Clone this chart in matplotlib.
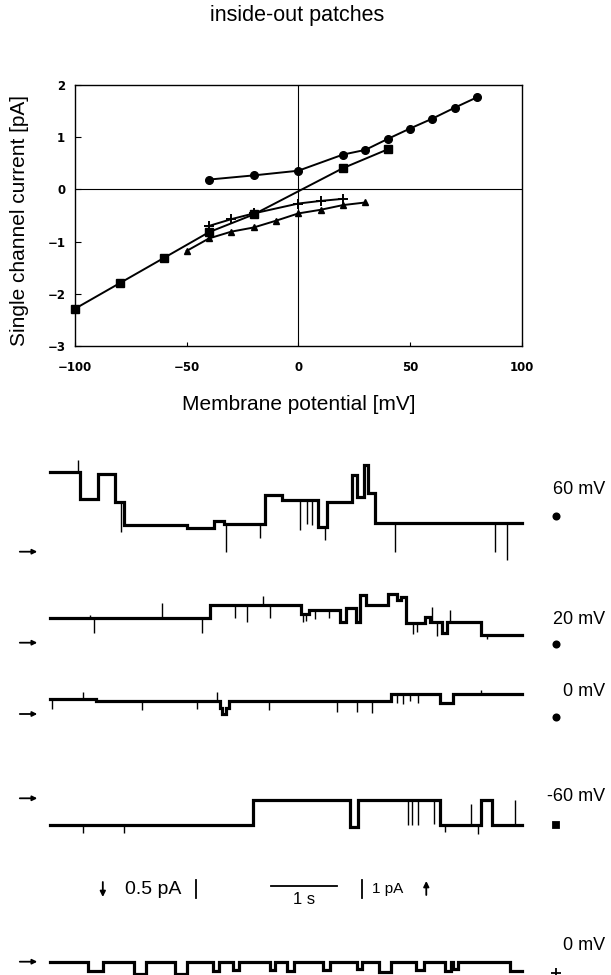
import numpy as np
import matplotlib
matplotlib.use("Agg")
import matplotlib.pyplot as plt
from matplotlib.lines import Line2D

# ---------------- data: I-V relation ----------------
V_CIRCLE = [-40, -20, 0, 20, 30, 40, 50, 60, 70, 80]
I_CIRCLE = [0.19, 0.27, 0.36, 0.67, 0.76, 0.97, 1.17, 1.36, 1.57, 1.77]
V_SQUARE = [-100, -80, -60, -40, -20, 20, 40]
I_SQUARE = [-2.29, -1.80, -1.31, -0.82, -0.48, 0.41, 0.77]
V_TRI = [-50, -40, -30, -20, -10, 0, 10, 20, 30]
I_TRI = [-1.18, -0.94, -0.81, -0.73, -0.60, -0.46, -0.39, -0.30, -0.25]
V_PLUS = [-40, -30, -20, 0, 10, 20]
I_PLUS = [-0.70, -0.57, -0.46, -0.27, -0.22, -0.18]
X_TICKS = [-100, -50, 0, 50, 100]
Y_TICKS = [-3, -2, -1, 0, 1, 2]

# ---------------- data: single channel traces (time s, current pA) ----------------
T_END = 7.15
T1_T = [0.00, 0.45, 0.72, 0.99, 1.12, 2.07, 2.48, 2.64, 3.26, 3.52, 4.06, 4.19, 4.57, 4.65, 4.75, 4.81, 4.93]
T1_I = [4.44, 2.91, 4.32, 2.78, 1.48, 1.30, 1.70, 1.55, 3.15, 2.90, 1.39, 2.75, 4.26, 3.02, 4.82, 3.28, 1.61]
T1_SPK_T = [0.42, 1.07, 2.67, 3.18, 3.78, 3.89, 3.97, 4.16, 5.22, 6.74, 6.93]
T1_SPK_I = [5.10, 1.11, 0.00, 0.74, 1.20, 1.52, 1.50, 0.65, 0.00, 0.00, -0.46]

T2_T = [0.00, 2.43, 3.80, 3.93, 4.40, 4.49, 4.63, 4.70, 4.78, 5.12, 5.25, 5.31, 5.40, 5.68, 5.75, 5.94, 6.02, 6.53]
T2_I = [1.35, 2.09, 1.60, 1.79, 1.17, 1.91, 1.17, 2.65, 2.09, 2.70, 2.36, 2.55, 1.08, 1.45, 1.17, 0.55, 1.17, 0.43]
T2_SPK_T = [0.60, 0.67, 1.70, 2.31, 2.80, 2.98, 3.22, 3.34, 3.83, 3.88, 4.02, 4.22, 5.50, 5.56, 5.78, 5.86, 6.06, 6.62]
T2_SPK_I = [1.55, 0.53, 2.19, 0.52, 1.35, 1.17, 2.60, 1.35, 1.17, 1.20, 1.30, 1.40, 0.50, 0.60, 2.00, 0.40, 1.80, 0.20]

T3_T = [0.00, 0.70, 2.57, 2.61, 2.66, 2.71, 5.17, 5.91, 6.10]
T3_I = [0.84, 0.74, 0.35, 0.00, 0.35, 0.74, 1.11, 0.61, 1.11]
T3_SPK_T = [0.03, 0.50, 1.40, 2.22, 2.53, 3.31, 4.34, 4.65, 4.88, 5.25, 5.35, 5.45, 5.58, 6.53]
T3_SPK_I = [0.30, 1.24, 0.22, 0.30, 1.24, 0.22, 0.13, 0.13, 0.04, 0.60, 0.55, 0.70, 0.60, 1.35]

T4_T = [0.00, 3.08, 4.55, 4.66, 5.91, 6.53, 6.69]
T4_I = [-1.48, -0.09, -1.60, -0.09, -1.48, -0.09, -1.48]
T4_SPK_T = [0.50, 1.12, 5.42, 5.49, 5.58, 5.81, 5.99, 6.38, 6.48, 7.05]
T4_SPK_I = [-1.90, -1.90, -1.50, -1.50, -1.50, -1.45, -1.85, -0.30, -2.00, -0.10]

T5_T = [0.00, 0.57, 0.81, 1.27, 1.45, 1.90, 2.07, 2.47, 2.56, 2.77, 2.87, 3.34, 3.41,
        3.59, 3.70, 4.13, 4.24, 4.65, 4.73, 4.98, 5.17, 5.55, 5.66, 5.99, 6.07, 6.10, 6.18, 6.97]
T5_I = [0.00, -0.25, 0.00, -0.35, 0.00, -0.33, 0.00, -0.25, 0.00, -0.22, 0.00, -0.22, 0.00,
        -0.25, 0.00, -0.22, 0.00, -0.20, 0.00, -0.28, 0.00, -0.22, 0.00, -0.25, 0.00, -0.20, 0.00, -0.25]

TRACE_LABELS = ["60 mV", "20 mV", "0 mV", "-60 mV", "0 mV"]
TRACE_MARKERS = ["o", "o", "o", "s", "+"]

# ---------------- figure ----------------
W, H, DPI = 611, 975, 100
plt.rcParams["font.family"] = ["Liberation Sans", "DejaVu Sans"]
fig = plt.figure(figsize=(W / DPI, H / DPI), dpi=DPI)
fig.patch.set_facecolor("white")


def px_axes(x0, y0, x1, y1):
    return fig.add_axes([x0 / W, 1 - y1 / H, (x1 - x0) / W, (y1 - y0) / H])


def pxf(x, y):
    return (x / W, 1 - y / H)


fig.text(*pxf(297, 15), "inside-out patches", ha="center", va="center", fontsize=15.5)

# ---------------- I-V plot ----------------
ax = px_axes(75, 85.3, 521.7, 345.7)
ax.set_xlim(-100, 100)
ax.set_ylim(-3, 2)
ax.axhline(0, color="black", lw=0.8, zorder=1)
ax.axvline(0, color="black", lw=0.8, zorder=1)
lk = dict(color="black", lw=1.4, zorder=3, clip_on=False)
ax.plot(V_CIRCLE, I_CIRCLE, marker="o", ms=5.5, **lk)
ax.plot(V_SQUARE, I_SQUARE, marker="s", ms=6, **lk)
ax.plot(V_TRI, I_TRI, marker="^", ms=5, **lk)
ax.plot(V_PLUS, I_PLUS, marker="+", ms=7, mew=1.4, **lk)
ax.set_xticks(X_TICKS)
ax.set_yticks(Y_TICKS)
for lab in ax.get_xticklabels() + ax.get_yticklabels():
    lab.set_fontfamily("DejaVu Sans")
    lab.set_fontweight("bold")
    lab.set_fontsize(8.5)
ax.tick_params(axis="x", direction="in", length=3, width=0.8, pad=11)
ax.tick_params(axis="y", direction="in", length=4, width=0.8, pad=7)
for sp in ax.spines.values():
    sp.set_linewidth(1.0)
ax.set_xlabel("Membrane potential [mV]", fontsize=15)
ax.xaxis.set_label_coords(0.5, (345.7 - 405) / 260.4)
ax.xaxis.label.set_va("center")
ax.set_ylabel("Single channel current [pA]", fontsize=15)
ax.yaxis.set_label_coords((20 - 75) / 446.7, (345.7 - 220) / 260.4)
ax.yaxis.label.set_va("center")

# ---------------- traces ----------------
G = 18.0    # px per pA, traces 1-4
G5 = 36.0   # px per pA, last trace (0.5 pA bar)
X0, X1 = 50, 522


def trace_axes(y_top, y_bot, y0, gain):
    a = px_axes(X0, y_top, X1, y_bot)
    a.set_xlim(0, T_END)
    a.set_ylim((y0 - y_bot) / gain, (y0 - y_top) / gain)
    a.axis("off")
    a.patch.set_alpha(0)
    return a


def draw_trace(a, tt, ii, spt=None, spi=None):
    t = list(tt) + [T_END]
    i = list(ii) + [ii[-1]]
    a.step(t, i, where="post", color="black", lw=2.3, solid_joinstyle="miter", clip_on=False)
    if spt:
        idx = np.searchsorted(tt, spt, side="right") - 1
        base = np.asarray(ii)[idx]
        a.vlines(spt, base, spi, color="black", lw=1.0)
    a.annotate("", xy=(-0.027, 0), xytext=(-0.064, 0),
               xycoords=("axes fraction", "data"), textcoords=("axes fraction", "data"),
               arrowprops=dict(arrowstyle="-|>", color="black", lw=1.3,
                               mutation_scale=7, shrinkA=0, shrinkB=0),
               annotation_clip=False)


trace_specs = [
    # (top, bottom, zero-row, gain, T, I, spikeT, spikeI, label_y, marker_y)
    (455, 565, 551.7, G, T1_T, T1_I, T1_SPK_T, T1_SPK_I, 490, 516),
    (590, 655, 642.7, G, T2_T, T2_I, T2_SPK_T, T2_SPK_I, 620, 644),
    (680, 725, 714.0, G, T3_T, T3_I, T3_SPK_T, T3_SPK_I, 692, 716.5),
    (785, 845, 798.3, G, T4_T, T4_I, T4_SPK_T, T4_SPK_I, 796.5, 825),
    (950, 975, 961.7, G5, T5_T, T5_I, None, None, 945, 973),
]

for k, (yt, yb, y0, g, tt, ii, st, si, ly, my) in enumerate(trace_specs):
    a = trace_axes(yt, yb, y0, g)
    draw_trace(a, tt, ii, st, si)
    fig.text(*pxf(605, ly), TRACE_LABELS[k], ha="right", va="center", fontsize=13)
    m = TRACE_MARKERS[k]
    fig.add_artist(Line2D([556 / W], [1 - my / H], marker=m, color="black",
                          ms=7 if m == "+" else 4.5, mew=1.3, linestyle="none",
                          transform=fig.transFigure))

# ---------------- scale bars ----------------
sax = px_axes(X0, 870, X1, 910)
sax.set_xlim(0, T_END)
sax.set_ylim(0, 40 / G)
sax.axis("off")
sax.patch.set_alpha(0)
yb = (910 - 898) / G
sax.plot([3.35, 4.35], [(910 - 886) / G] * 2, color="black", lw=1.3)          # 1 s
sax.text(3.85, (910 - 899) / G, "1 s", ha="center", va="center", fontsize=12)
sax.plot([4.73, 4.73], [yb, yb + 1.0], color="black", lw=1.3)               # 1 pA
sax.text(4.88, (910 - 889) / G, "1 pA", ha="left", va="center", fontsize=11)
sax.plot([2.21, 2.21], [yb, yb + 0.5 * G5 / G], color="black", lw=1.3)      # 0.5 pA
sax.text(1.56, (910 - 889) / G, "0.5 pA", ha="center", va="center", fontsize=14)
sax.annotate("", xy=(0.80, (910 - 897) / G), xytext=(0.80, (910 - 882) / G),
             arrowprops=dict(arrowstyle="-|>", color="black", lw=1.3, mutation_scale=8,
                             shrinkA=0, shrinkB=0), annotation_clip=False)
sax.annotate("", xy=(5.70, (910 - 881) / G), xytext=(5.70, (910 - 895) / G),
             arrowprops=dict(arrowstyle="-|>", color="black", lw=1.3, mutation_scale=8,
                             shrinkA=0, shrinkB=0), annotation_clip=False)

fig.savefig("out.png", dpi=DPI, facecolor="white")
